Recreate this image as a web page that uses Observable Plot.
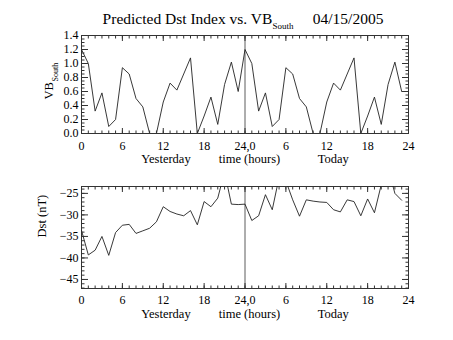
<!DOCTYPE html>
<html>
<head>
<meta charset="utf-8">
<script src="https://cdn.jsdelivr.net/npm/d3@7"></script>
<script src="https://cdn.jsdelivr.net/npm/@observablehq/plot@0.6"></script>
<style>
  html, body { margin: 0; padding: 0; background: white; }
  #chart { width: 453px; height: 340px; position: relative; overflow: hidden; font-family: "Liberation Serif", serif; }
  #title { height: 28px; box-sizing: border-box; padding: 11px 45px 0 78px; text-align: center; font-size: 15.5px; line-height: 16px; color: #000; white-space: pre; }
  #title sub { font-size: 9px; vertical-align: -5px; line-height: 0; }
  svg { display: block; }
</style>
</head>
<body>
<div id="chart">
  <div id="title">Predicted Dst Index vs. VB<sub>South</sub>     04/15/2005</div>
</div>
<script>
// ---- data (hourly, yesterday 0-23 then today 0-23) ----
const hours = d3.range(0, 48);
const vbYesterday = [1.2, 1.0, 0.32, 0.58, 0.1, 0.2, 0.94, 0.85, 0.5, 0.38, 0, 0, 0.45, 0.72, 0.62, 0.85, 1.08, 0, 0.25, 0.52, 0.13, 0.7, 1.02, 0.6];
const vbToday     = [1.2, 1.0, 0.32, 0.58, 0.1, 0.2, 0.94, 0.85, 0.5, 0.38, 0, 0, 0.45, 0.72, 0.62, 0.85, 1.08, 0, 0.25, 0.52, 0.13, 0.7, 1.02, 0.6];
const dstYesterday = [-33.6, -39.3, -38.2, -35.0, -39.4, -34.1, -32.4, -32.2, -34.3, -33.7, -33.1, -31.6, -28.1, -29.2, -29.8, -30.2, -29.0, -32.3, -26.9, -28.1, -26.1, -20.0, -27.5, -27.6];
const dstToday     = [-27.5, -31.3, -30.2, -25.3, -28.8, -21.3, -22.1, -26.5, -30.3, -26.5, -26.8, -27.0, -27.1, -28.8, -29.3, -26.5, -26.9, -30.2, -26.3, -29.5, -23.0, -19.0, -25.0, -26.6];

const xMajor = [0, 6, 12, 18, 24, 30, 36, 42, 48];
const xMajorLabels = ["0", "6", "12", "18", "24,0", "6", "12", "18", "24"];
const xMinor = d3.range(0, 49, 1);
const xTitle = "Yesterday\u00A0\u00A0\u00A0\u00A0\u00A0\u00A0\u00A0\u00A0\u00A0time (hours)\u00A0\u00A0\u00A0\u00A0\u00A0\u00A0\u00A0\u00A0\u00A0\u00A0\u00A0\u00A0Today";

const vbMajor = [0, 0.2, 0.4, 0.6, 0.8, 1.0, 1.2, 1.4];
const vbMinor = d3.range(0, 1.4001, 0.05);
const dstMajor = [-45, -40, -35, -30, -25];
const dstMinor = d3.range(-47, -23, 1);

const vbData = hours.map((h, i) => ({hour: h, value: i < 24 ? vbYesterday[i] : vbToday[i - 24]}));
const dstData = hours.map((h, i) => ({hour: h, value: i < 24 ? dstYesterday[i] : dstToday[i - 24]}));
const xLabelMap = new Map(xMajor.map((v, i) => [v, xMajorLabels[i]]));
const blank = () => "";

function axesMarks(yMajor, yMinor, yFmt, pad) {
  return [
    Plot.axisX(xMinor, {anchor: "bottom", tickSize: -2.5, tickFormat: blank, label: null, stroke: "#333"}),
    Plot.axisX(xMinor, {anchor: "top", tickSize: -2.5, tickFormat: blank, label: null, stroke: "#333"}),
    Plot.axisX(xMajor, {anchor: "bottom", tickSize: -5, tickFormat: blank, label: null, stroke: "#333"}),
    Plot.axisX(xMajor, {anchor: "top", tickSize: -5, tickFormat: blank, label: null, stroke: "#333"}),
    Plot.axisX(xMajor, {anchor: "bottom", tickSize: 0, tickPadding: pad, tickFormat: d => xLabelMap.get(d), label: null, fontSize: 12}),
    Plot.axisY(yMinor, {anchor: "left", tickSize: -3.5, tickFormat: blank, label: null, stroke: "#333"}),
    Plot.axisY(yMinor, {anchor: "right", tickSize: -3.5, tickFormat: blank, label: null, stroke: "#333"}),
    Plot.axisY(yMajor, {anchor: "left", tickSize: -7, tickFormat: blank, label: null, stroke: "#333"}),
    Plot.axisY(yMajor, {anchor: "right", tickSize: -7, tickFormat: blank, label: null, stroke: "#333"}),
    Plot.axisY(yMajor, {anchor: "left", tickSize: 0, tickPadding: 3, tickFormat: yFmt, label: null, fontSize: 12}),
    Plot.text([xTitle], {frameAnchor: "bottom", dy: 29, lineAnchor: "bottom", text: d => d, fontSize: 12.5})
  ];
}

const common = {
  width: 453,
  marginLeft: 81,
  marginRight: 45,
  x: {domain: [0, 48]},
  style: {fontFamily: "Liberation Serif, serif", fontSize: "12px", color: "black", background: "white", overflow: "visible"}
};

const topPlot = Plot.plot({
  ...common,
  height: 142,
  marginTop: 7,
  marginBottom: 37,
  y: {domain: [0, 1.4]},
  marks: [
    Plot.frame({stroke: "#333", strokeWidth: 1}),
    Plot.ruleX([24], {stroke: "#333", strokeWidth: 0.8}),
    Plot.line(vbData, {x: "hour", y: "value", stroke: "#222", strokeWidth: 0.9, clip: true}),
    ...axesMarks(vbMajor, vbMinor, d3.format(".1f"), 8),
    Plot.text(["VB"], {frameAnchor: "left", rotate: -90, dx: -33, dy: 15, text: d => d, fontSize: 12.5}),
    Plot.text(["South"], {frameAnchor: "left", rotate: -90, dx: -26, dy: -3, text: d => d, fontSize: 8})
  ]
});

const bottomPlot = Plot.plot({
  ...common,
  height: 170,
  marginTop: 16,
  marginBottom: 52,
  y: {domain: [-47.1, -23.4]},
  marks: [
    Plot.frame({stroke: "#333", strokeWidth: 1}),
    Plot.ruleX([24], {stroke: "#333", strokeWidth: 0.8}),
    Plot.line(dstData, {x: "hour", y: "value", stroke: "#222", strokeWidth: 0.9, clip: true}),
    ...axesMarks(dstMajor, dstMinor, d3.format("d"), 7),
    Plot.text(["Dst (nT)"], {frameAnchor: "left", rotate: -90, dx: -40, text: d => d, fontSize: 12.5})
  ]
});

const chart = document.getElementById("chart");
chart.appendChild(topPlot);
chart.appendChild(bottomPlot);
</script>
</body>
</html>
